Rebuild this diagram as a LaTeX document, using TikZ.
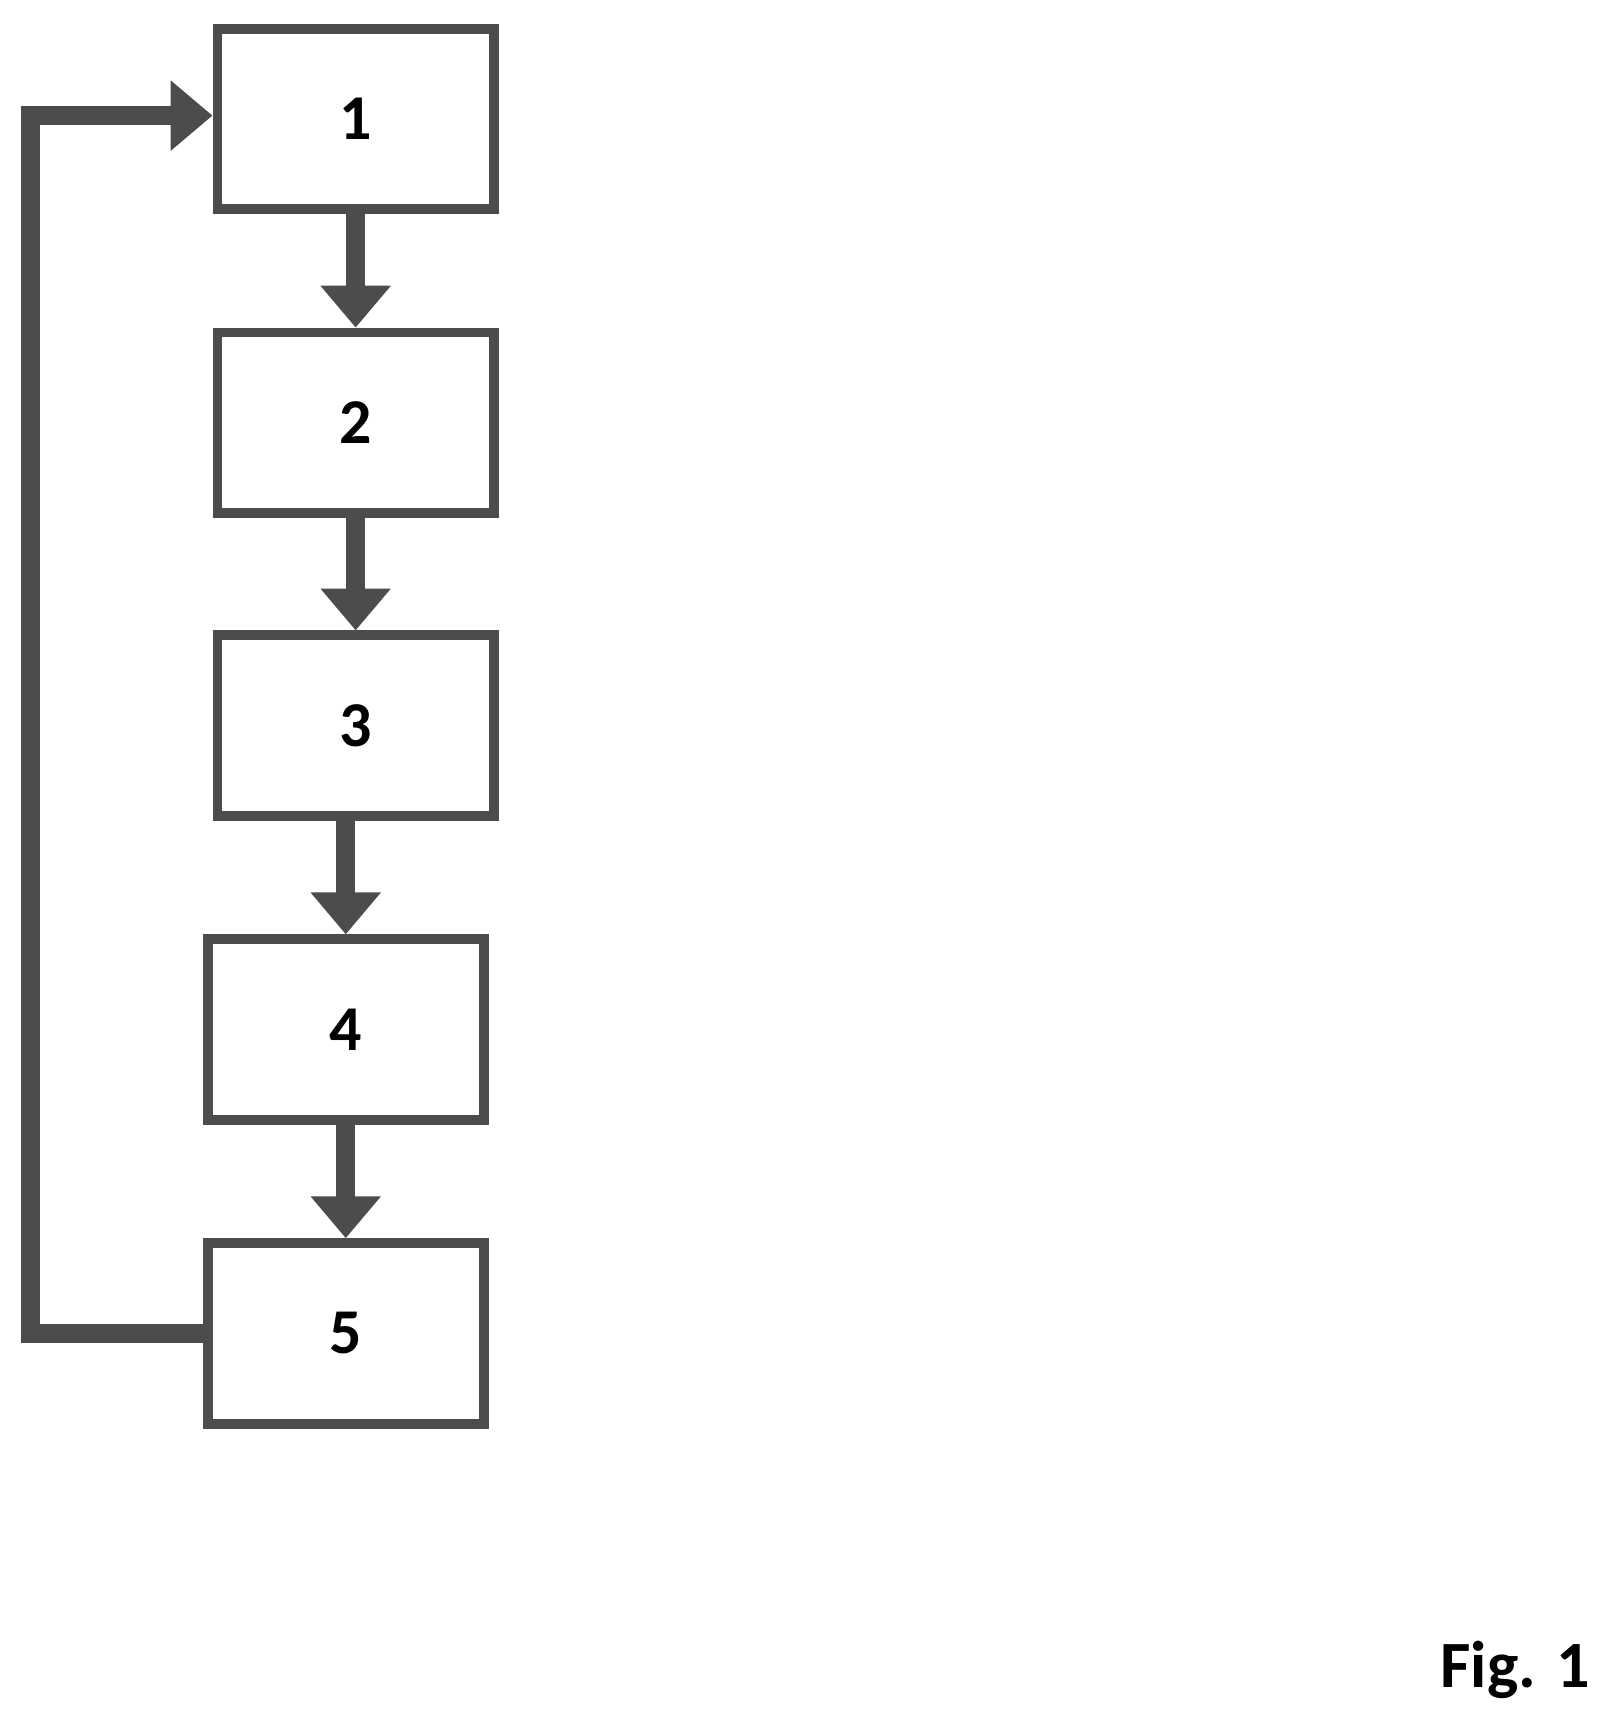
\documentclass[tikz,border=0pt]{standalone}
\usepackage{fontspec}
\setmainfont{Carlito}
\usetikzlibrary{arrows.meta}
\definecolor{hatch}{gray}{0.3}

\begin{document}
\begin{tikzpicture}[x=1pt,y=-1pt,
	step_box/.style={draw=hatch,line width=9pt,minimum width=251pt,minimum height=164pt,inner sep=0pt,font=\fontsize{58}{58}\selectfont\bfseries},
	flow/.style={draw=hatch,line width=17pt,-{Triangle[open,length=38pt,width=62pt,line width=8pt,fill=hatch]}}]
	\useasboundingbox (0,0) rectangle (1470,1573);
	\node[step_box] (s1) at (323,108) {1};
	\node[step_box] (s2) at (323,384) {2};
	\node[step_box] (s3) at (323,659) {3};
	\node[step_box] (s4) at (314,935) {4};
	\node[step_box] (s5) at (314,1211) {5};
	\node[font=\fontsize{60}{60}\selectfont\bfseries] (fig) at (1376,1517) {Fig. 1};

	\draw[flow] (s1) -- (s2);
	\draw[flow] (s2) -- (s3);
	\draw[flow] (s3.south -| s4) -- (s4);
	\draw[flow] (s4) -- (s5);
	\draw[flow] (s5.west) -- (28,1211) -- (28,105) -- (s1.west |- 0,105);
\end{tikzpicture}
\end{document}
